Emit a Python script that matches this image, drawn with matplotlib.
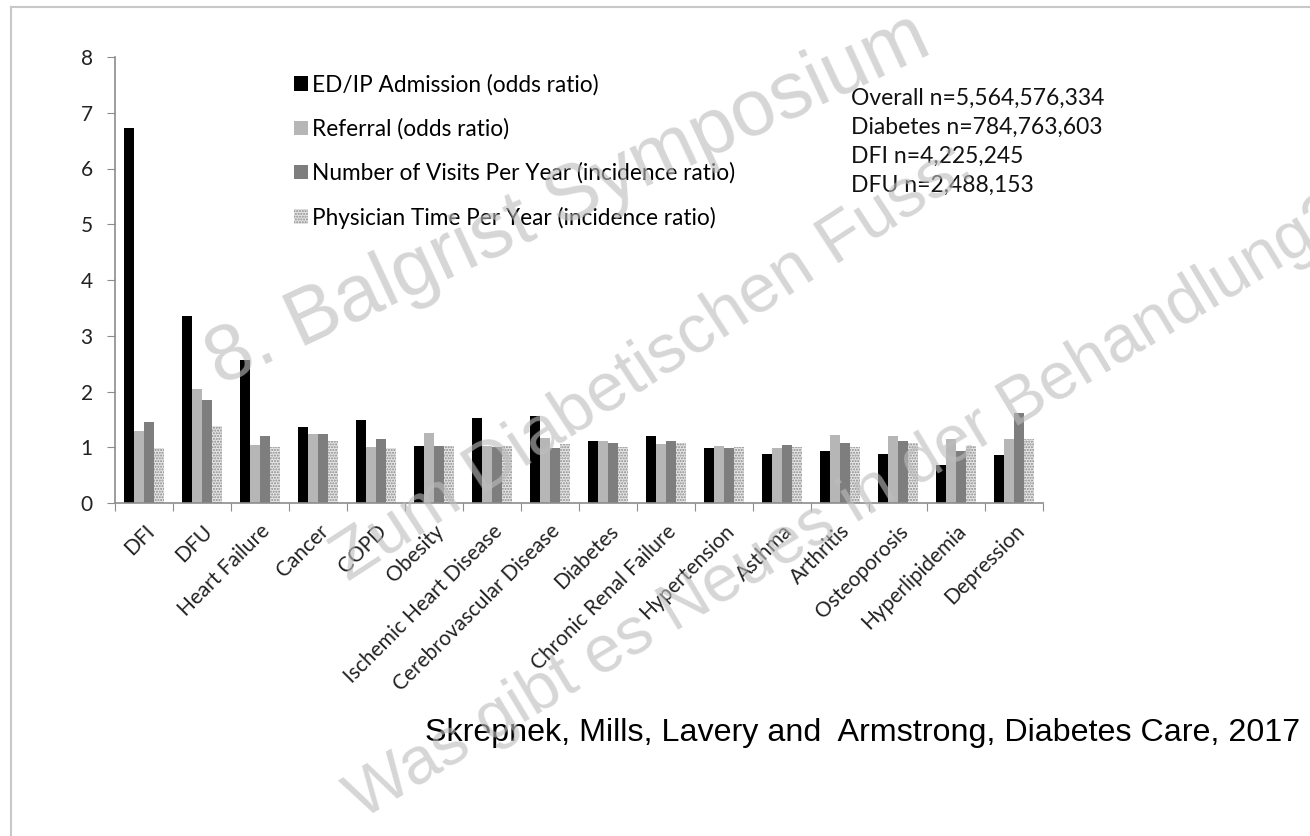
import matplotlib
matplotlib.use('Agg')
import matplotlib.pyplot as plt
import numpy as np
from matplotlib.lines import Line2D

conditions = ['DFI', 'DFU', 'Heart Failure', 'Cancer', 'COPD', 'Obesity',
              'Ischemic Heart Disease', 'Cerebrovascular Disease', 'Diabetes',
              'Chronic Renal Failure', 'Hypertension', 'Asthma', 'Arthritis',
              'Osteoporosis', 'Hyperlipidemia', 'Depression']

admission = [6.72, 3.36, 2.56, 1.37, 1.49, 1.03, 1.52, 1.56, 1.11, 1.21,
             0.98, 0.88, 0.94, 0.88, 0.68, 0.86]
referral = [1.29, 2.04, 1.04, 1.23, 1.01, 1.25, 1.03, 1.17, 1.11, 1.05,
            1.02, 0.99, 1.22, 1.20, 1.15, 1.15]
visits = [1.45, 1.84, 1.20, 1.23, 1.14, 1.03, 1.01, 0.99, 1.07, 1.11,
          0.98, 1.04, 1.07, 1.11, 0.94, 1.61]
physician_time = [0.99, 1.39, 1.01, 1.12, 0.99, 1.03, 1.02, 1.05, 1.00, 1.08,
                  1.01, 1.01, 1.00, 1.08, 1.02, 1.15]

series_labels = ['ED/IP Admission (odds ratio)', 'Referral (odds ratio)',
                 'Number of Visits Per Year (incidence ratio)',
                 'Physician Time Per Year (incidence ratio)']

cohort_sizes = ['Overall n=5,564,576,334', 'Diabetes n=784,763,603',
                'DFI n=4,225,245', 'DFU n=2,488,153']

citation = 'Skrepnek, Mills, Lavery and  Armstrong, Diabetes Care, 2017'

watermark = ['8. Balgrist Symposium', 'Zum Diabetischen Fuss:',
             'Was gibt es Neues in der Behandlung?']

plt.rcParams['font.family'] = ['Lato', 'DejaVu Sans']
plt.rcParams['hatch.linewidth'] = 1.0

fig = plt.figure(figsize=(13.1, 8.36), dpi=100)
ax = fig.add_axes([115 / 1310, 1 - 503 / 836, (1043 - 115) / 1310, (503 - 57) / 836])

x = np.arange(len(conditions))
w = 0.172
styles = [
    dict(color='#000000'),
    dict(color='#b6b6b6'),
    dict(color='#7e7e7e'),
    dict(facecolor='#e6e6e6', edgecolor='#8a8a8a', hatch='......', linewidth=0),
]
handles = []
for i, (vals, st) in enumerate(zip([admission, referral, visits, physician_time], styles)):
    b = ax.bar(x + (i - 1.5) * w, vals, w, label=series_labels[i], **st)
    handles.append(b)

ax.set_xlim(-0.5, len(conditions) - 0.5)
ax.set_ylim(0, 8)
ax.set_yticks(range(0, 9))
ax.set_xticks(np.arange(-0.5, len(conditions)), minor=False)
ax.set_xticklabels([])
ax.set_xticks(x, minor=True)
ax.set_xticklabels(conditions, minor=True, rotation=45, ha='right',
                   rotation_mode='anchor', fontsize=15, color='#222222')
ax.tick_params(axis='x', which='minor', length=0, pad=13)
ax.tick_params(axis='x', which='major', length=6, color='#8c8c8c')
ax.tick_params(axis='y', length=6, color='#8c8c8c', labelsize=15,
               labelcolor='#222222', pad=10)
for s in ['top', 'right']:
    ax.spines[s].set_visible(False)
for s in ['left', 'bottom']:
    ax.spines[s].set_color('#8c8c8c')
    ax.spines[s].set_linewidth(1.2)

fig.legend(handles=handles, loc='upper left', bbox_to_anchor=(294 / 1310, 1 - 74 / 836),
           frameon=False, fontsize=16.3, handlelength=0.6, handleheight=0.6,
           handletextpad=0.2, labelspacing=1.0, borderpad=0, borderaxespad=0)

for i, t in enumerate(cohort_sizes):
    fig.text(851 / 1310, 1 - (98 + 29 * i) / 836, t, fontsize=16.5, va='center',
             color='#111111')

fig.text(1300 / 1310, 1 - 733 / 836, citation, fontsize=23.2, ha='right', va='center',
         family=['Liberation Sans', 'DejaVu Sans'])

# slide frame
fig.add_artist(Line2D([11 / 1310, 1], [1 - 7 / 836, 1 - 7 / 836], color='#c8c8c8', lw=1.5))
fig.add_artist(Line2D([11 / 1310, 11 / 1310], [0, 1 - 7 / 836], color='#c8c8c8', lw=1.5))

# watermark on top
wm_pos = [(568, 200), (652, 362), (848, 508)]
wm_rot = [25, 33, 31]
wm_size = [57, 50, 48]
for t, (px, py), r, fs in zip(watermark, wm_pos, wm_rot, wm_size):
    fig.text(px / 1310, 1 - py / 836, t, fontsize=fs, rotation=r, ha='center',
             va='center', color='#bdbdbd', alpha=0.62, rotation_mode='anchor',
             family=['Liberation Sans', 'DejaVu Sans'], zorder=10)

fig.savefig('out.png', dpi=100)
